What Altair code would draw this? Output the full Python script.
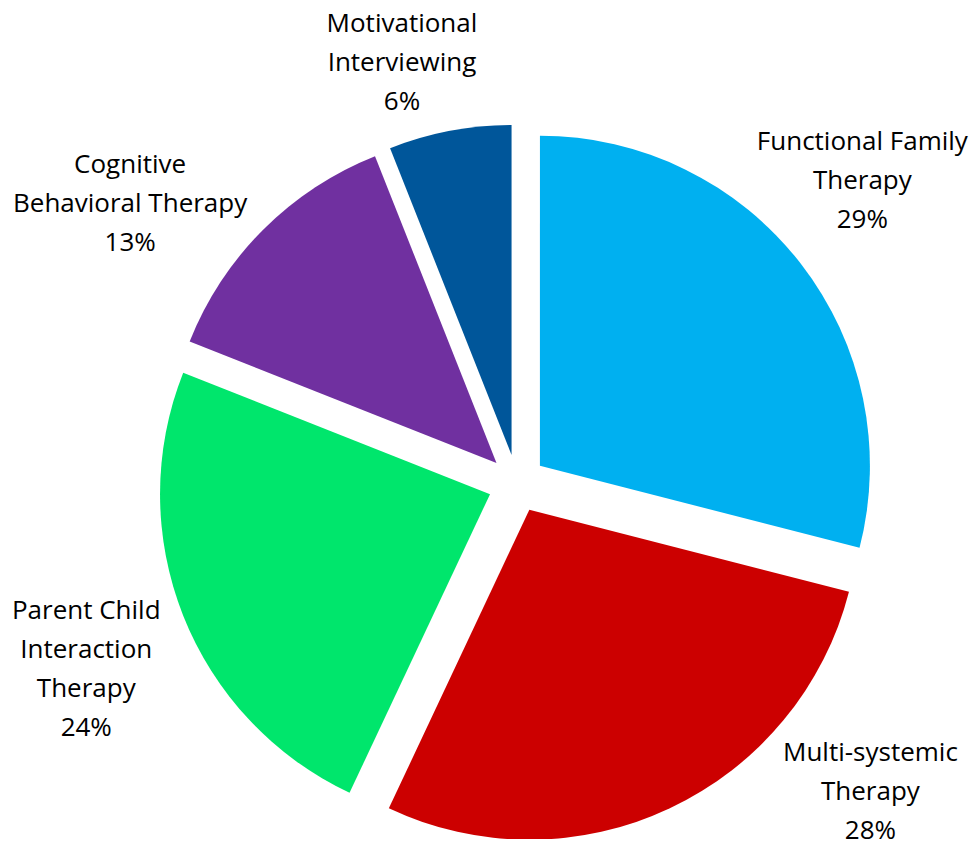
import altair as alt
import pandas as pd

# ---- data ----
categories = [
    "Functional Family Therapy",
    "Multi-systemic Therapy",
    "Parent Child Interaction Therapy",
    "Cognitive Behavioral Therapy",
    "Motivational Interviewing",
]
values = [29, 28, 24, 13, 6]
label_text = [
    "Functional Family\nTherapy",
    "Multi-systemic\nTherapy",
    "Parent Child\nInteraction\nTherapy",
    "Cognitive\nBehavioral Therapy",
    "Motivational\nInterviewing",
]
colors = ["#00B0F0", "#CC0000", "#00E66C", "#7030A0", "#00569A"]

# ---- layout (styling, not data) ----
W, H = 962, 831
CX, CY = 509, 475.5       # pie centre in chart pixels
RADIUS = 330
EXPLODE = 29
LINE_H = 39
label_nudge_deg = [-3.4, -23.7, -1.7, -9.2, -4.5]   # label shift from slice mid-angle
label_radius = [459, 469, 469, 477, 436]

df = pd.DataFrame({
    "category": categories,
    "value": values,
    "label": label_text,
    "order": list(range(len(categories))),
    "nudge": label_nudge_deg,
    "lrad": label_radius,
})

base = alt.Chart(df).transform_window(
    cum="sum(value)", sort=[alt.SortField("order")], frame=[None, 0]
).transform_joinaggregate(
    total="sum(value)"
).transform_calculate(
    t0="2*PI*(datum.cum - datum.value)/datum.total",
    t1="2*PI*datum.cum/datum.total",
).transform_calculate(
    mid="(datum.t0 + datum.t1)/2",
).transform_calculate(
    px=f"{CX} + {EXPLODE}*sin(datum.mid)",
    py=f"{CY} - {EXPLODE}*cos(datum.mid)",
    la="datum.mid + datum.nudge*PI/180",
    text="datum.label + '\\n' + datum.value + '%'",
).transform_calculate(
    nlines="length(split(datum.text, '\\n'))",
).transform_calculate(
    lx=f"{CX} + datum.lrad*sin(datum.la)",
    ly=f"{CY} - datum.lrad*cos(datum.la) - (datum.nlines - 1)*{LINE_H}/2",
)

arcs = base.mark_arc(radius=RADIUS, stroke=None).encode(
    x=alt.X("px:Q", scale=None, axis=None),
    y=alt.Y("py:Q", scale=None, axis=None),
    theta=alt.Theta("t0:Q", scale=None),
    theta2=alt.Theta2("t1:Q"),
    color=alt.Color("category:N", scale=alt.Scale(domain=categories, range=colors), legend=None),
)

labels = base.mark_text(
    font="Open Sans", fontSize=26, lineHeight=LINE_H, lineBreak="\n",
    align="center", baseline="middle", color="#000000",
).encode(
    x=alt.X("lx:Q", scale=None, axis=None),
    y=alt.Y("ly:Q", scale=None, axis=None),
    text="text:N",
)

chart = alt.layer(arcs, labels).properties(
    width=W, height=H, padding=0, autosize=alt.AutoSizeParams(type="none")
).configure_view(stroke=None)

chart.save("out.html", embed_options={"renderer": "svg", "actions": False})
